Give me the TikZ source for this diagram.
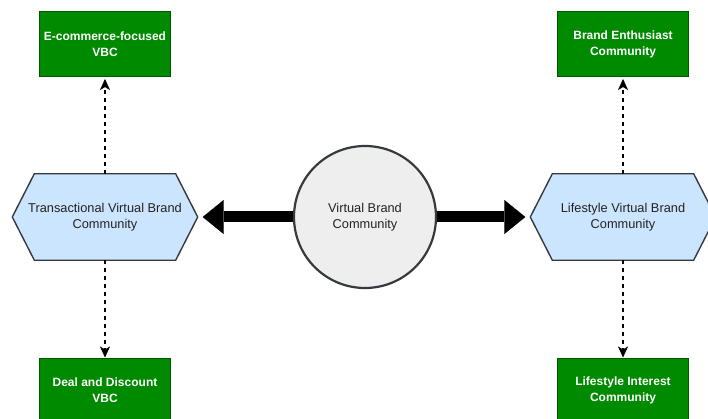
\documentclass[tikz,border=0pt]{standalone}
\usepackage{fontspec}
\setmainfont{Liberation Sans}
\usetikzlibrary{arrows.meta,calc}
\pgfdeclarelayer{bg}
\pgfsetlayers{bg,main}
\definecolor{gfill}{HTML}{008A00}
\definecolor{gline}{HTML}{005700}
\definecolor{hfill}{HTML}{CCE5FF}
\definecolor{dline}{HTML}{36393D}
\definecolor{cfill}{HTML}{EEEEEE}
\definecolor{tcol}{HTML}{222222}
\begin{document}
\begin{tikzpicture}[x=1pt,y=-1pt,
 greenbox/.style={rectangle, draw=gline, fill=gfill, line width=1pt, minimum width=131pt, minimum height=65pt, inner sep=0pt, text=white, font=\fontsize{12}{16}\selectfont\bfseries, align=center},
 hexnode/.style={rectangle, minimum width=185pt, minimum height=86pt, inner sep=0pt, text=tcol, font=\fontsize{12.8}{15.5}\selectfont, align=center},
 hexline/.style={draw=dline, fill=hfill, line width=1.4pt, line join=miter},
 hub/.style={circle, draw=dline, fill=cfill, line width=2.2pt, minimum size=142pt, inner sep=0pt, text=tcol, font=\fontsize{12.8}{15.5}\selectfont, align=center},
 bigarrow/.style={line width=11pt, -{Triangle[length=21pt,width=34pt,line width=0.1pt]}},
 dasharrow/.style={dash pattern=on 4pt off 4pt, line width=1.8pt, -{Stealth[length=11pt,width=10pt,inset=3pt,line width=0.5pt]}}
]
\useasboundingbox (0,0) rectangle (708,419);

\node[greenbox] (ecom) at (105,44.5) {E-commerce-focused\\VBC};
\node[greenbox] (deal) at (105,390.5) {Deal and Discount\\VBC};
\node[greenbox] (enth) at (623,44.5) {Brand Enthusiast\\Community};
\node[greenbox] (lint) at (623,390.5) {Lifestyle Interest\\Community};

\node[hexnode] (trans) at (105,217) {Transactional Virtual Brand\\Community};
\node[hexnode] (life) at (623,217) {Lifestyle Virtual Brand\\Community};
\node[hub] (vbc) at (365,217) {Virtual Brand\\Community};

\begin{pgfonlayer}{bg}
\draw[hexline] (trans.west) -- ($(trans.north west)+(22,0)$) -- ($(trans.north east)+(-22,0)$) -- (trans.east) -- ($(trans.south east)+(-22,0)$) -- ($(trans.south west)+(22,0)$) -- cycle;
\draw[hexline] (life.west) -- ($(life.north west)+(22,0)$) -- ($(life.north east)+(-22,0)$) -- (life.east) -- ($(life.south east)+(-22,0)$) -- ($(life.south west)+(22,0)$) -- cycle;
\draw[bigarrow] (vbc.center) -- ([xshift=5pt]trans.east);
\draw[bigarrow] (vbc.center) -- ([xshift=-5pt]life.west);
\end{pgfonlayer}

\draw[dasharrow, shorten >=1.5pt] (trans.north) -- (ecom.south);
\draw[dasharrow] (trans.south) -- (deal.north);
\draw[dasharrow, shorten >=1.5pt] (life.north) -- (enth.south);
\draw[dasharrow] (life.south) -- (lint.north);
\end{tikzpicture}
\end{document}
